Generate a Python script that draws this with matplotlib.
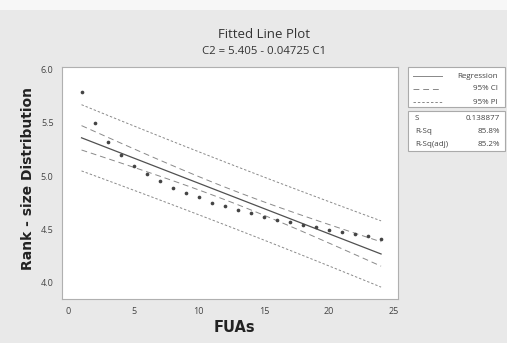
import numpy as np
import matplotlib
matplotlib.use("Agg")
import matplotlib.pyplot as plt
from matplotlib.patches import Rectangle
from matplotlib.lines import Line2D

# ---- data ----
fuas = list(range(1, 25))
rank_size = [5.79, 5.50, 5.32, 5.20, 5.09, 5.02, 4.95, 4.89, 4.84, 4.80, 4.75, 4.72,
             4.68, 4.65, 4.62, 4.59, 4.57, 4.545, 4.52, 4.495, 4.48, 4.46, 4.435, 4.415]
intercept = 5.405
slope = -0.04725
s_value = 0.138877
r_sq = "85.8%"
r_sq_adj = "85.2%"
t_crit = 2.074  # t(0.975, df=22)
x_ticks = [0, 5, 10, 15, 20, 25]
y_ticks = [4.0, 4.5, 5.0, 5.5, 6.0]

plt.rcParams['font.family'] = ['Open Sans', 'DejaVu Sans']

fig = plt.figure(figsize=(5.07, 3.43), dpi=100)
fig.patch.set_facecolor('#e9e9e9')
fig.patches.append(Rectangle((0, 1 - 10/343), 1, 10/343, transform=fig.transFigure,
                             facecolor='#f7f7f7', edgecolor='none', zorder=0))

ax = fig.add_axes([62/507, 1 - 299/343, 336/507, 232/343])
ax.set_facecolor('white')

x = np.array(fuas, dtype=float)
n = len(x)
xm = x.mean()
sxx = ((x - xm) ** 2).sum()
xf = np.linspace(x.min(), x.max(), 100)
yf = intercept + slope * xf
ci = t_crit * s_value * np.sqrt(1/n + (xf - xm) ** 2 / sxx)
pi = t_crit * s_value * np.sqrt(1 + 1/n + (xf - xm) ** 2 / sxx)

ax.plot(xf, yf, color='#505050', lw=0.9)
band_col = '#8a8a8a'
ax.plot(xf, yf + ci, color=band_col, lw=0.7, ls=(0, (6, 4)))
ax.plot(xf, yf - ci, color=band_col, lw=0.7, ls=(0, (6, 4)))
ax.plot(xf, yf + pi, color=band_col, lw=0.7, ls=(0, (2.5, 2)))
ax.plot(xf, yf - pi, color=band_col, lw=0.7, ls=(0, (2.5, 2)))
ax.scatter(fuas, rank_size, s=7, color='#444444', zorder=3, linewidths=0)

ax.set_xlim(-0.5, 25.3)
ax.set_ylim(3.85, 6.02)
ax.set_xticks(x_ticks)
ax.set_yticks(y_ticks)
ax.set_yticklabels([f"{v:.1f}" for v in y_ticks])
ax.tick_params(length=0, labelsize=6.5, colors='#444444', pad=6)
for sp in ax.spines.values():
    sp.set_color('#b0b0b0')
    sp.set_linewidth(0.8)

fig.text(264/507, 1 - 35/343, "Fitted Line Plot", ha='center', va='center',
         fontsize=9.5, color='#333333')
fig.text(264/507, 1 - 51/343, "C2 = 5.405 - 0.04725 C1", ha='center', va='center',
         fontsize=8.2, color='#333333')
fig.text(28/507, 1 - 179/343, "Rank - size Distribution", rotation=90, ha='center',
         va='center', fontsize=10, fontweight='bold', color='#222222',
         family='DejaVu Sans')
fig.text(234/507, 1 - 328/343, "FUAs", ha='center', va='center',
         fontsize=10.5, fontweight='bold', color='#222222', family='DejaVu Sans')

def fx(px):
    return px / 507
def fy(py):
    return 1 - py / 343

fig.patches.append(Rectangle((fx(408), fy(107)), fx(505) - fx(408), fy(67) - fy(107),
                             transform=fig.transFigure, facecolor='white',
                             edgecolor='#aaaaaa', lw=0.8))
fig.patches.append(Rectangle((fx(408), fy(151)), fx(505) - fx(408), fy(111) - fy(151),
                             transform=fig.transFigure, facecolor='white',
                             edgecolor='#aaaaaa', lw=0.8))
leg_items = [("Regression", '-'), ("95% CI", (0, (6, 4))), ("95% PI", (0, (2.5, 2)))]
for i, (lab, ls) in enumerate(leg_items):
    yy = 76 + i * 13
    fig.lines.append(Line2D([fx(413), fx(442)], [fy(yy), fy(yy)], transform=fig.transFigure,
                            color='#888888', lw=0.7, ls=ls))
    fig.text(fx(498), fy(yy), lab, ha='right', va='center', fontsize=5.8, color='#444444')

stats = [("S", f"{s_value:.6f}"), ("R-Sq", r_sq), ("R-Sq(adj)", r_sq_adj)]
for i, (k, v) in enumerate(stats):
    yy = 119 + i * 12.5
    fig.text(fx(415), fy(yy), k, ha='left', va='center', fontsize=5.8, color='#444444')
    fig.text(fx(500), fy(yy), v, ha='right', va='center', fontsize=5.8, color='#444444')

fig.savefig("out.png", dpi=100, facecolor=fig.get_facecolor())
